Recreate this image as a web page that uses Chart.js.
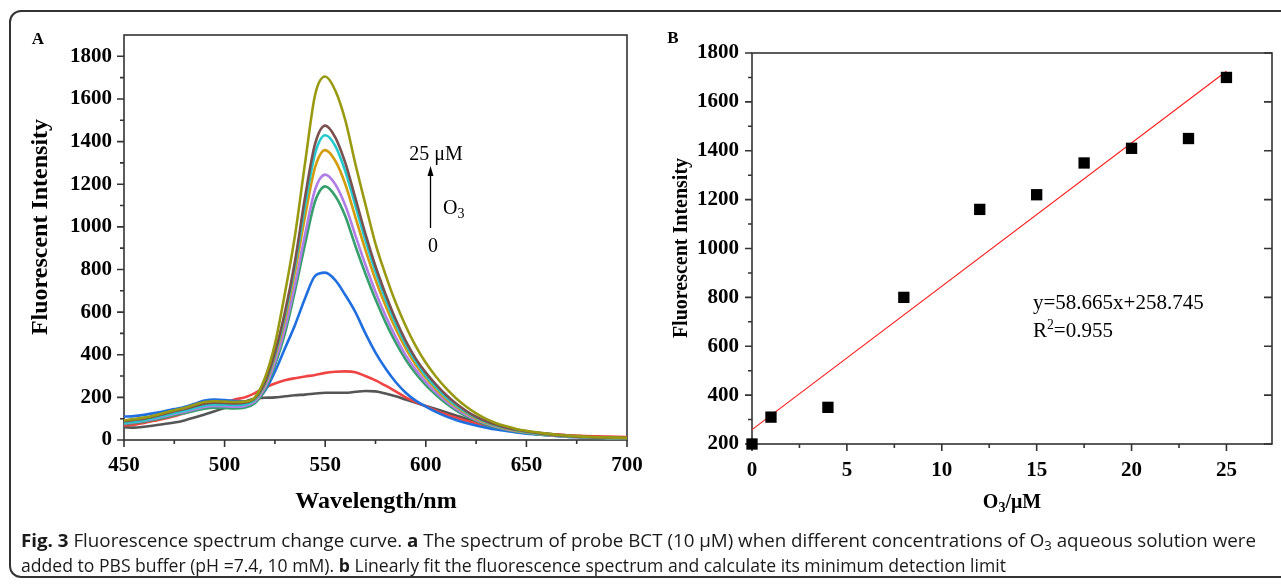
<!DOCTYPE html>
<html><head><meta charset="utf-8">
<script src="https://cdn.jsdelivr.net/npm/chart.js@4.4.1/dist/chart.umd.min.js"></script>
<style>
body{margin:0;background:#fff;}
#wrap{position:relative;width:1281px;height:584px;overflow:hidden;background:#fff;}
canvas{position:absolute;}
.t{position:absolute;font-family:"Liberation Serif","Times New Roman",serif;color:#000;line-height:1;white-space:nowrap;}
.c{transform:translate(-50%,-50%);}
.l{transform:translate(0,-50%);}
.b{font-weight:bold;}
.rot{transform:translate(-50%,-50%) rotate(-90deg);}
#box{position:absolute;left:9px;top:10px;width:1300px;height:568px;border:2px solid #333;border-radius:12px;box-sizing:border-box;}
.cap{position:absolute;left:21px;font-family:"Open Sans",sans-serif;font-size:18px;color:#1a1a1a;line-height:1;white-space:nowrap;transform-origin:0 50%;}
.cap b{font-weight:700;}
sub{font-size:0.7em;vertical-align:-0.25em;line-height:0;}
sup{font-size:0.65em;vertical-align:0.55em;line-height:0;}
</style></head>
<body><div id="wrap">
<div id="box"></div>
<canvas id="cA" width="660" height="520" style="left:0;top:0;width:660px;height:520px"></canvas>
<canvas id="cB" width="641" height="520" style="left:640px;top:0;width:641px;height:520px"></canvas>

<div class="t b c" style="left:38px;top:38px;font-size:17px">A</div>
<div class="t b c" style="left:673px;top:37px;font-size:17px">B</div>

<div class="t b rot" style="left:39px;top:227px;font-size:24px">Fluorescent Intensity</div>
<div class="t b c" style="left:376px;top:500px;font-size:24px">Wavelength/nm</div>
<div class="t b rot" style="left:680px;top:248px;font-size:20px">Fluorescent Intensity</div>
<div class="t b c" style="left:1012px;top:501px;font-size:20px">O<sub>3</sub>/μM</div>

<div class="t c" style="left:436px;top:153px;font-size:20px">25 μM</div>
<div class="t l" style="left:443px;top:207px;font-size:20px">O<sub>3</sub></div>
<div class="t c" style="left:433px;top:245px;font-size:20px">0</div>
<svg style="position:absolute;left:0;top:0" width="1281" height="584">
<line x1="430.5" y1="228" x2="430.5" y2="174" stroke="#000" stroke-width="1.3"/>
<polygon points="430.5,166 427.5,176 433.5,176" fill="#000"/>
</svg>

<div class="t l" style="left:1033px;top:302px;font-size:21px">y=58.665x+258.745</div>
<div class="t l" style="left:1033px;top:330px;font-size:21px">R<sup>2</sup>=0.955</div>

<div class="cap" id="cap1" style="top:531px"><b>Fig. 3</b> Fluorescence spectrum change curve. <b>a</b> The spectrum of probe BCT (10 μM) when different concentrations of O<sub>3</sub> aqueous solution were</div>
<div class="cap" id="cap2" style="top:556px">added to PBS buffer (pH =7.4, 10 mM). <b>b</b> Linearly fit the fluorescence spectrum and calculate its minimum detection limit</div>
</div>
<script>
// ---------- Panel A data ----------
const wavelengths = [450,455,460,465,470,475,480,485,490,495,500,505,510,515,520,525,530,535,540,545,550,555,560,565,570,575,580,585,590,595,600,605,610,615,620,625,630,635,640,645,650,655,660,665,670,675,680,685,690,695,700];
const specGray = [60,58,62,68,75,82,92,105,120,135, 150,165,180,195,198,200,205,210,213,218, 222,222,222,226,230,228,218,205,190,175, 160,145,130,115,100,88,76,65,56,48, 41,35,30,26,22,19,16,14,13,12,11];
const specRed = [68,72,80,90,100,112,125,140,155,165, 175,190,200,220,245,265,280,290,298,305, 315,320,322,318,300,280,255,228,200,178, 158,138,120,104,90,78,67,58,50,43, 37,32,28,25,22,20,18,17,16,15,14];
const specBlue = [110,112,118,126,135,145,155,170,185,190, 188,183,180,185,230,320,430,540,665,770, 785,750,680,600,500,410,335,272,222,185, 157,132,111,94,80,68,58,49,42,35, 30,26,22,19,16,14,12,11,10,9,8];
const specGreen = [75,80,86,95,105,116,126,136,147,152, 150,148,152,172,235,350,500,700,920,1120, 1190,1145,1050,910,780,660,552,458,378,312, 257,212,172,139,112,90,72,59,48,40, 33,27,23,19,16,14,12,10,9,8,8];
const specPurple = [78,84,90,100,110,122,132,143,155,160, 158,156,160,180,245,365,525,730,965,1175, 1245,1200,1100,960,822,695,583,484,398,329, 272,224,182,147,118,95,77,62,51,42, 35,29,24,20,17,14,12,11,10,9,8];
const specGold = [85,90,97,107,118,130,140,152,165,170, 168,166,170,190,260,390,565,790,1050,1280, 1360,1310,1200,1045,892,752,630,522,430,353, 291,239,194,157,126,101,81,66,54,44, 37,30,25,21,17,15,13,11,10,9,8];
const specCyan = [80,86,93,103,115,127,137,150,162,167, 166,164,168,190,265,400,585,820,1100,1345, 1430,1380,1260,1100,937,790,660,547,450,369, 302,249,202,163,131,105,84,68,56,46, 38,31,26,22,18,15,13,11,10,9,8];
const specBrown = [88,94,100,110,122,135,145,158,170,175, 174,172,175,195,270,410,600,840,1140,1390, 1475,1420,1300,1135,967,815,684,566,465,382, 316,261,212,171,137,109,88,71,58,48, 40,33,27,23,19,16,14,12,11,10,9];
const specOlive = [92,98,105,115,128,140,150,165,178,182, 180,178,180,200,290,450,690,960,1300,1620, 1705,1640,1500,1295,1105,920,775,645,535,440, 362,298,243,196,157,125,99,79,64,52, 43,36,30,25,21,18,15,13,12,11,10];
const specSeries = [specGray,specRed,specBlue,specGreen,specPurple,specGold,specCyan,specBrown,specOlive];
const specColors = ['#555555','#f04444','#1f6fe0','#35a06c','#b07ee6','#d39c0e','#22c8cc','#7a5050','#999a12'];
const aXTicks = [450,500,550,600,650,700];
const aXMinor = [475,525,575,625,675];
const aYTicks = [0,200,400,600,800,1000,1200,1400,1600,1800];
const aYMinor = [100,300,500,700,900,1100,1300,1500,1700];

// ---------- Panel B data ----------
const o3Conc = [0,1,4,8,12,15,17.5,20,23,25];
const o3Intensity = [200,310,350,800,1160,1220,1350,1410,1450,1700];
const fitX = [0,25];
const fitY = [258.745,1725.37];
const bXTicks = [0,5,10,15,20,25];
const bXMinor = [2.5,7.5,12.5,17.5,22.5];
const bYTicks = [200,400,600,800,1000,1200,1400,1600,1800];
const bYMinor = [300,500,700,900,1100,1300,1500,1700];

const tickFont = {family:'"Liberation Serif","Times New Roman",serif',size:21,weight:'bold'};

function framePlugin(cfg){
  return {id:'frame',beforeDatasetsDraw(chart){
    const ctx=chart.ctx,a=chart.chartArea,x=chart.scales.x,y=chart.scales.y;
    ctx.save();
    ctx.strokeStyle='#333';ctx.lineWidth=1.6;
    ctx.strokeRect(a.left,a.top,a.right-a.left,a.bottom-a.top);
    ctx.beginPath();
    cfg.yMajor.forEach(v=>{const p=y.getPixelForValue(v);ctx.moveTo(a.left,p);ctx.lineTo(a.left-7,p);if(cfg.mirror){ctx.moveTo(a.right,p);ctx.lineTo(a.right-8,p);}});
    cfg.yMinor.forEach(v=>{const p=y.getPixelForValue(v);ctx.moveTo(a.left,p);ctx.lineTo(a.left-4,p);});
    cfg.xMajor.forEach(v=>{const p=x.getPixelForValue(v);ctx.moveTo(p,a.bottom);ctx.lineTo(p,a.bottom+7);});
    cfg.xMinor.forEach(v=>{const p=x.getPixelForValue(v);ctx.moveTo(p,a.bottom);ctx.lineTo(p,a.bottom+4);});
    ctx.stroke();ctx.restore();
  }};
}
function axis(min,max,ticks,fit,isX,pad){
  return {type:'linear',min:min,max:max,
    afterBuildTicks:s=>{s.ticks=ticks.map(v=>({value:v}));},
    afterFit:s=>{if(isX)s.height=fit;else s.width=fit;},
    grid:{display:false,drawTicks:false},border:{display:false},
    ticks:{padding:pad,font:tickFont,color:'#000',callback:v=>String(v)}};
}

const dsA = specSeries.map((d,i)=>({data:d.map((v,j)=>({x:wavelengths[j],y:v})),borderColor:specColors[i],borderWidth:2.6,pointRadius:0,cubicInterpolationMode:'monotone',fill:false,order:specSeries.length-i}));

new Chart(document.getElementById('cA'),{type:'line',data:{datasets:dsA},
  options:{responsive:false,maintainAspectRatio:false,animation:false,
    layout:{padding:{left:0,top:35,right:33,bottom:0}},
    plugins:{legend:{display:false},tooltip:{enabled:false}},
    scales:{x:axis(450,700,aXTicks,80,true,13),y:axis(0,1900,aYTicks,124,false,12)}},
  plugins:[framePlugin({yMajor:aYTicks,yMinor:aYMinor,xMajor:aXTicks,xMinor:aXMinor,mirror:false})]});

new Chart(document.getElementById('cB'),{type:'scatter',data:{datasets:[
    {type:'line',data:fitX.map((v,i)=>({x:v,y:fitY[i]})),borderColor:'#ff1a1a',borderWidth:1.1,pointRadius:0,order:2},
    {type:'scatter',data:o3Conc.map((v,i)=>({x:v,y:o3Intensity[i]})),pointStyle:'rect',pointRadius:8,backgroundColor:'#000',borderColor:'#000',borderWidth:0,clip:false,order:1}
  ]},
  options:{responsive:false,maintainAspectRatio:false,animation:false,
    layout:{padding:{left:0,top:53,right:9,bottom:0}},
    plugins:{legend:{display:false},tooltip:{enabled:false}},
    scales:{x:axis(0,27.4,bXTicks,76,true,14),y:axis(200,1800,bYTicks,112,false,13)}},
  plugins:[framePlugin({yMajor:bYTicks,yMinor:bYMinor,xMajor:bXTicks,xMinor:bXMinor,mirror:true})]});

// fit caption lines to the reference's condensed typeface
(function(){
  [['cap1',1235],['cap2',985]].forEach(([id,target])=>{
    const c=document.getElementById(id);
    const w=c.getBoundingClientRect().width;
    c.style.transform='scaleX('+(target/w)+')';
  });
})();
</script>
</body></html>
